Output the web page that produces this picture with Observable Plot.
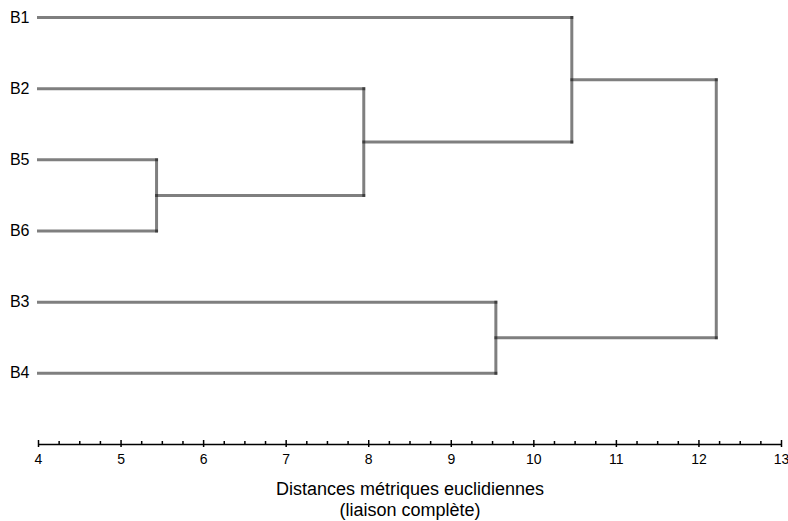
<!DOCTYPE html>
<html>
<head>
<meta charset="utf-8">
<script src="https://cdn.jsdelivr.net/npm/d3@7"></script>
<script src="https://cdn.jsdelivr.net/npm/@observablehq/plot@0.6"></script>
<style>
  body { margin: 0; background: #fff; }
  svg { font-family: "Liberation Sans", Arial, sans-serif; }
</style>
</head>
<body>
<div id="chart"></div>
<script>
// Leaves in display order (top to bottom)
const leaves = ["B1", "B2", "B5", "B6", "B3", "B4"];
// Merges (complete linkage): left child, right child, height
const nodeIds = ["n1", "n2", "n3", "n4", "n5"];
const nodeLeft = ["B5", "B2", "B3", "B1", "n4"];
const nodeRight = ["B6", "n1", "B4", "n2", "n3"];
const nodeHeight = [5.43, 7.94, 9.54, 10.46, 12.21];
// Axis
const xMin = 4, xMax = 13;
const majorTicks = [4, 5, 6, 7, 8, 9, 10, 11, 12, 13];
const axisTitle = "Distances métriques euclidiennes\n(liaison complète)";

// Build positions
const pos = new Map();
leaves.forEach((l, i) => pos.set(l, {x: xMin, y: i}));
nodeIds.forEach((id, i) => {
  const a = pos.get(nodeLeft[i]), b = pos.get(nodeRight[i]);
  pos.set(id, {x: nodeHeight[i], y: (a.y + b.y) / 2});
});
const segments = [];
nodeIds.forEach((id, i) => {
  const n = pos.get(id);
  const a = pos.get(nodeLeft[i]), b = pos.get(nodeRight[i]);
  segments.push({x1: n.x, y1: a.y, x2: n.x, y2: b.y});
  segments.push({x1: a.x, y1: a.y, x2: n.x, y2: a.y});
  segments.push({x1: b.x, y1: b.y, x2: n.x, y2: b.y});
});
const minorTicks = d3.range(xMin, xMax + 0.001, 0.25).filter(t => !majorTicks.includes(t));
const axisY = leaves.length;

const chart = Plot.plot({
  width: 788,
  height: 521,
  marginLeft: 38,
  marginRight: 7,
  marginTop: 17,
  marginBottom: 77,
  x: {domain: [xMin, xMax]},
  y: {domain: [0, axisY], range: [17, 444], axis: null},
  marks: [
    Plot.link(segments, {x1: "x1", y1: "y1", x2: "x2", y2: "y2", stroke: "black", strokeOpacity: 0.5, strokeWidth: 3, strokeLinecap: "square"}),
    Plot.text(leaves, {x: xMin, y: (d, i) => i, text: d => d, textAnchor: "end", dx: -9, fontSize: 16, fill: "black"}),
    Plot.ruleY([axisY], {x1: xMin, x2: xMax, stroke: "black", strokeWidth: 1.5}),
    Plot.ruleX(majorTicks, {x: d => d, y1: axisY, y2: axisY, insetTop: -4, insetBottom: -3, stroke: "black", strokeWidth: 1.5}),
    Plot.ruleX(minorTicks, {x: d => d, y1: axisY, y2: axisY, insetTop: -3, insetBottom: 0, stroke: "black", strokeWidth: 1.5}),
    Plot.axisX({ticks: majorTicks, tickSize: 0, tickPadding: 10, fontSize: 14, tickFormat: d => String(d), label: null}),
    Plot.text([axisTitle], {frameAnchor: "bottom", dy: 54, lineAnchor: "middle", lineHeight: 1.2, fontSize: 18, fill: "black"})
  ]
});
document.getElementById("chart").appendChild(chart);
</script>
</body>
</html>
